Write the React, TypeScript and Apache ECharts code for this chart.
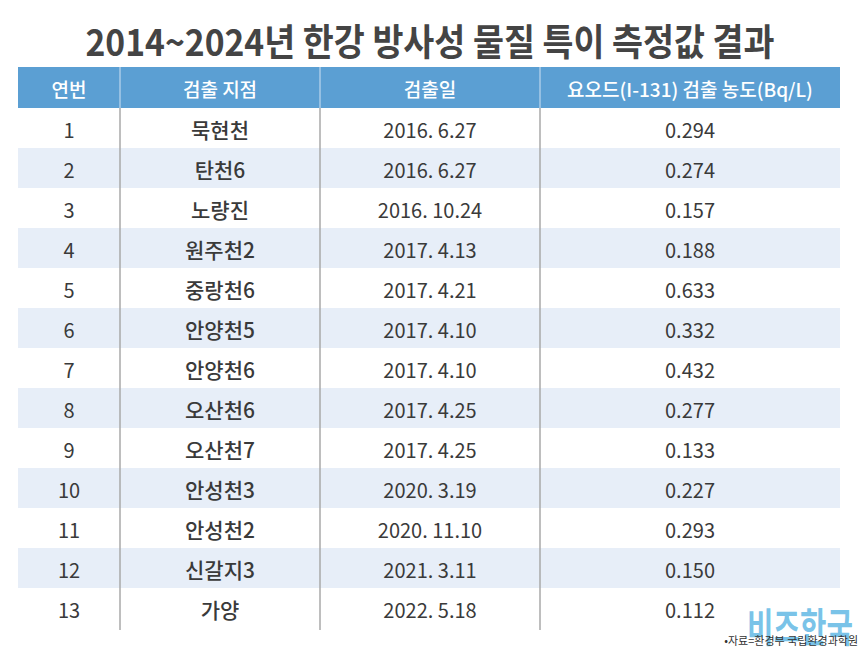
import React, { useEffect, useRef } from "react";
import * as echarts from "echarts";

const titleText = "2014~2024년 한강 방사성 물질 특이 측정값 결과";
const headers = ["연번", "검출 지점", "검출일", "요오드(I-131) 검출 농도(Bq/L)"];
const ids = [1, 2, 3, 4, 5, 6, 7, 8, 9, 10, 11, 12, 13];
const sites = ["묵현천", "탄천6", "노량진", "원주천2", "중랑천6", "안양천5", "안양천6", "오산천6", "오산천7", "안성천3", "안성천2", "신갈지3", "가양"];
const dates = ["2016. 6.27", "2016. 6.27", "2016. 10.24", "2017. 4.13", "2017. 4.21", "2017. 4.10", "2017. 4.10", "2017. 4.25", "2017. 4.25", "2020. 3.19", "2020. 11.10", "2021. 3.11", "2022. 5.18"];
const values = [0.294, 0.274, 0.157, 0.188, 0.633, 0.332, 0.432, 0.277, 0.133, 0.227, 0.293, 0.15, 0.112];
const sourceText = "•자료=환경부 국립환경과학원";
const logoText = "비즈한국";

const FONT = '"Noto Sans CJK KR", "Noto Sans", sans-serif';

export default function App() {
  const ref = useRef<HTMLDivElement>(null);
  useEffect(() => {
    if (!ref.current) return;
    const chart = echarts.init(ref.current, null, { renderer: "svg" });
    const left = 18, right = 840;
    const colX = [18, 120, 320, 540, 840];
    const headTop = 67, headH = 41;
    const rowTop = headTop + headH;
    const rowH = 40;
    const els: any[] = [];
    els.push({ type: "rect", shape: { x: 0, y: 0, width: 860, height: 653 }, style: { fill: "#ffffff" } });
    // title
    els.push({
      type: "text", x: 430, y: 40, scaleX: 0.91, originX: 0, originY: 0,
      style: { text: titleText, fontFamily: FONT, fontWeight: "bold", fontSize: 37, fill: "#444444", align: "center", verticalAlign: "middle" },
    });
    // header band
    els.push({ type: "rect", shape: { x: left, y: headTop, width: right - left, height: headH }, style: { fill: "#5b9fd3" } });
    // row backgrounds
    ids.forEach((_, i) => {
      if (i % 2 === 1) {
        els.push({ type: "rect", shape: { x: left, y: rowTop + i * rowH, width: right - left, height: rowH }, style: { fill: "#e7eef8" } });
      }
    });
    // separators
    for (let c = 1; c < 4; c++) {
      els.push({ type: "line", shape: { x1: colX[c], y1: headTop, x2: colX[c], y2: rowTop }, style: { stroke: "#a9cbe8", lineWidth: 1.5 } });
      els.push({ type: "line", shape: { x1: colX[c], y1: rowTop, x2: colX[c], y2: rowTop + ids.length * rowH + 2 }, style: { stroke: "#a8a8a8", lineWidth: 1.5 } });
    }
    // header texts
    headers.forEach((h, c) => {
      els.push({
        type: "text", x: (colX[c] + colX[c + 1]) / 2, y: headTop + headH / 2 + 1,
        style: { text: h, fontFamily: FONT, fontSize: 19, fontWeight: 500, fill: "#ffffff", align: "center", verticalAlign: "middle" },
      });
    });
    // body
    ids.forEach((id, i) => {
      const cy = rowTop + i * rowH + rowH / 2 + 1;
      const cells = [String(id), sites[i], dates[i], values[i].toFixed(3)];
      cells.forEach((t, c) => {
        els.push({
          type: "text", x: (colX[c] + colX[c + 1]) / 2, y: cy,
          style: { text: t, fontFamily: FONT, fontSize: c === 1 ? 21 : 20, fontWeight: c === 1 ? 500 : 400, fill: "#3a3a3a", align: "center", verticalAlign: "middle" },
        });
      });
    });
    // logo
    els.push({
      type: "text", x: 800, y: 625, scaleX: 0.72, originX: 0, originY: 0,
      style: { text: logoText, fontFamily: FONT, fontSize: 40, fontWeight: "bold", fill: "#62b9e4", align: "center", verticalAlign: "middle", opacity: 0.85 },
    });
    els.push({
      type: "text", x: 858, y: 640,
      style: { text: sourceText, fontFamily: FONT, fontSize: 11, fill: "#333333", align: "right", verticalAlign: "middle" },
    });
    chart.setOption({ animation: false, graphic: { elements: els } });
    return () => chart.dispose();
  }, []);
  return <div ref={ref} style={{ width: 860, height: 653, position: "absolute", left: 0, top: 0 }} />;
}
